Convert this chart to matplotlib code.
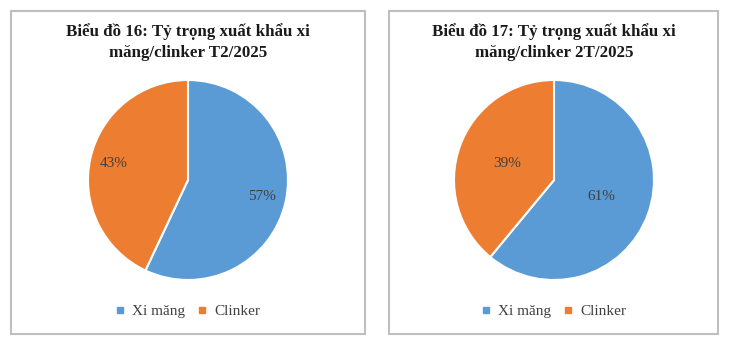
import matplotlib
matplotlib.use("Agg")
import matplotlib.pyplot as plt
from matplotlib.patches import Rectangle
from matplotlib.lines import Line2D

categories = ["Xi măng", "Clinker"]
share_t2 = [57, 43]
share_2t = [61, 39]
titles = ["Biểu đồ 16: Tỷ trọng xuất khẩu xi\nmăng/clinker T2/2025",
          "Biểu đồ 17: Tỷ trọng xuất khẩu xi\nmăng/clinker 2T/2025"]
colors = ["#5B9BD5", "#ED7D31"]

W, H = 733, 346
fig = plt.figure(figsize=(W/100, H/100), dpi=100)
fig.patch.set_facecolor("white")

serif = ["Liberation Serif", "DejaVu Serif"]

panels = [(11, 365), (389, 718)]
centers = [188, 554]
label_dist = [0.76, 0.5]
datas = [share_t2, share_2t]

for i in range(2):
    x0, x1 = panels[i]
    fig.patches.append(Rectangle((x0/W, 1-334/H), (x1-x0)/W, (334-11)/H,
                                 transform=fig.transFigure, fill=False,
                                 edgecolor="#BFBFBF", linewidth=1.5))
    cx = centers[i]
    r = 100
    ax = fig.add_axes([(cx-r)/W, 1-(180+r)/H, 2*r/W, 2*r/H])
    wedges, texts, autotexts = ax.pie(
        datas[i], colors=colors, startangle=90, counterclock=False,
        autopct=lambda p: f"{p:.0f}%", pctdistance=label_dist[i],
        wedgeprops=dict(edgecolor="white", linewidth=1.5),
        textprops=dict(fontsize=11, family=serif, color="#404040"))
    ax.set_aspect("equal")
    ax.set_xlim(-1, 1); ax.set_ylim(-1, 1)
    ax.axis("off")
    fig.text(cx/W, 1-42/H, titles[i], ha="center", va="center",
             fontsize=12.2, fontweight="bold", family=serif, color="#1a1a1a",
             linespacing=1.45)
    handles = [Line2D([], [], marker="s", linestyle="none", markersize=4.5,
                      markerfacecolor=c, markeredgecolor=c) for c in colors]
    fig.legend(handles, categories, loc="center", bbox_to_anchor=(cx/W, 1-311/H),
               ncol=2, frameon=False, handlelength=0.6, handletextpad=0.5,
               columnspacing=0.8,
               prop=dict(family=serif, size=11), labelcolor="#404040")

fig.savefig("out.png", dpi=100)
